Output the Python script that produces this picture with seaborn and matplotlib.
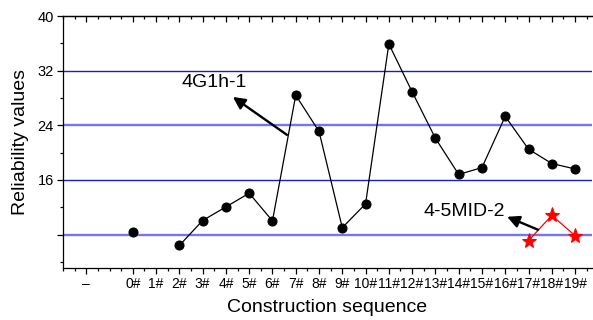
import numpy as np
import pandas as pd
import matplotlib
matplotlib.use("Agg")
import matplotlib.pyplot as plt
from matplotlib.ticker import MultipleLocator
import seaborn as sns

# Tick labels along the construction sequence axis
tick_labels = ["–"] + [f"{i}#" for i in range(20)]
tick_positions = [-2] + list(range(20))

# Series 4G1h-1 (stage 1# has no value)
g1h_stage = [0, 2, 3, 4, 5, 6, 7, 8, 9, 10, 11, 12, 13, 14, 15, 16, 17, 18, 19]
g1h_value = [8.3, 6.4, 10.05, 12.05, 14.05, 10.0, 28.4, 23.1, 9.0, 12.5,
             35.9, 28.9, 22.1, 16.8, 17.8, 25.3, 20.5, 18.4, 17.6]
g1h_segment = [0] + [1] * 18

# Series 4-5MID-2
mid_stage = [17, 18, 19]
mid_value = [7.1, 10.8, 7.85]

# Reference levels
ref_levels = [32, 24, 16, 8]

sns.set_theme(style="white")
plt.rcParams["font.family"] = ["Liberation Sans", "DejaVu Sans"]
plt.rcParams["text.color"] = "black"
plt.rcParams["axes.labelcolor"] = "black"
plt.rcParams["xtick.color"] = "black"
plt.rcParams["ytick.color"] = "black"

fig = plt.figure(figsize=(5.93, 3.20), dpi=100)
ax = fig.add_axes([0.1062, 0.1625, 0.8918, 0.7875])

ref_styles = {32: ("#1a1ad6", 1.0), 24: ("#7474f4", 1.7),
              16: ("#1a1ad6", 1.0), 8: ("#7474f4", 1.7)}
for lvl in ref_levels:
    c, w = ref_styles[lvl]
    ax.axhline(lvl, color=c, lw=w, zorder=1)

df_g = pd.DataFrame({"stage": g1h_stage, "value": g1h_value, "seg": g1h_segment})
df_m = pd.DataFrame({"stage": mid_stage, "value": mid_value})

sns.lineplot(data=df_g, x="stage", y="value", units="seg", estimator=None,
             color="black", lw=0.9, marker="o", markersize=6.5,
             markeredgecolor="black", ax=ax, zorder=3)
sns.lineplot(data=df_m, x="stage", y="value", estimator=None,
             color="red", lw=0.9, marker="*", markersize=11,
             markeredgecolor="red", ax=ax, zorder=3)

ax.set_xlim(-3, 19.72)
ax.set_ylim(3.1, 40)

ax.set_xticks(tick_positions)
ax.set_xticklabels(tick_labels, fontsize=10)
ax.xaxis.set_minor_locator(MultipleLocator(0.5))
ax.set_yticks([8, 16, 24, 32, 40])
ax.set_yticklabels(["", "16", "24", "32", "40"], fontsize=10.5)
ax.yaxis.set_minor_locator(MultipleLocator(4))

ax.tick_params(axis="both", which="major", direction="out", length=4.5,
               width=0.9, color="black", pad=2, labelcolor="black")
ax.tick_params(axis="both", which="minor", direction="out", length=2.5,
               width=0.9, color="black")
ax.tick_params(axis="x", which="both", bottom=True)
ax.tick_params(axis="y", which="both", left=True)

top = ax.secondary_xaxis("top")
top.set_xticks(tick_positions)
top.xaxis.set_minor_locator(MultipleLocator(0.5))
top.tick_params(which="major", direction="in", length=4.5, width=0.9,
                labeltop=False, color="black")
top.tick_params(which="minor", direction="in", length=2.5, width=0.9,
                color="black")
top.spines["top"].set_linewidth(0.9)
top.spines["top"].set_color("black")

for s in ["left", "bottom", "top"]:
    ax.spines[s].set_color("black")
    ax.spines[s].set_linewidth(0.9)
ax.spines["right"].set_visible(False)

ax.set_xlabel("Construction sequence", fontsize=14, labelpad=6, color="black")
ax.set_ylabel("Reliability values", fontsize=14, labelpad=6, color="black")

arrow = dict(arrowstyle="-|>", color="black", lw=1.7, mutation_scale=18,
             shrinkA=0, shrinkB=0)
ax.annotate("", xy=(4.3, 28.15), xytext=(6.62, 22.6), arrowprops=arrow)
ax.text(3.48, 30.2, "4G1h-1", fontsize=14, ha="center", va="center",
        color="black")
ax.annotate("", xy=(16.08, 10.6), xytext=(17.41, 8.7), arrowprops=arrow)
ax.text(14.23, 11.3, "4-5MID-2", fontsize=14, ha="center", va="center",
        color="black")

fig.savefig("out.png", dpi=100)
